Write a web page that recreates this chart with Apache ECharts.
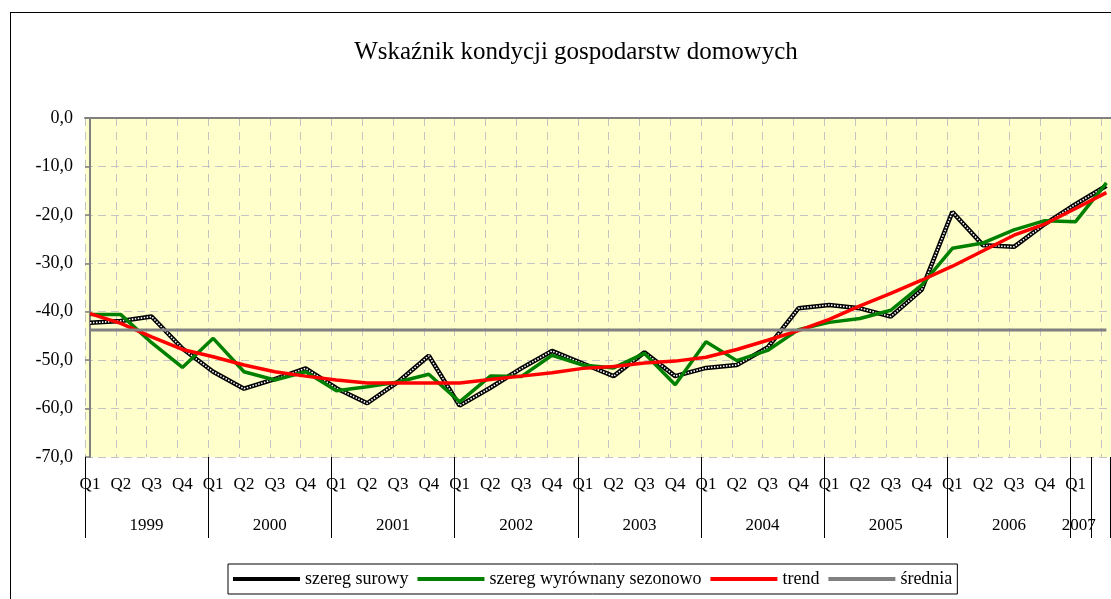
<!DOCTYPE html>
<html><head><meta charset="utf-8">
<script src="https://cdn.jsdelivr.net/npm/echarts@6/dist/echarts.min.js"></script>
<style>
html,body{margin:0;padding:0;background:#fff;overflow:hidden}
#chart{position:absolute;left:0;top:0;width:1111px;height:599px}
#frame{position:absolute;left:10px;top:12px;width:1300px;height:800px;border:1px solid #000;pointer-events:none}
</style></head><body>
<div id="chart"></div><div id="frame"></div>
<script>
// ---- data ----
const quarterLabels = ['Q1','Q2','Q3','Q4','Q1','Q2','Q3','Q4','Q1','Q2','Q3','Q4','Q1','Q2','Q3','Q4',
  'Q1','Q2','Q3','Q4','Q1','Q2','Q3','Q4','Q1','Q2','Q3','Q4','Q1','Q2','Q3','Q4','Q1','Q2'];
const yearLabels = ['1999','2000','2001','2002','2003','2004','2005','2006','2007'];
const rawSeries = [-42.3,-41.9,-41.0,-47.6,-52.4,-55.9,-53.9,-51.7,-55.8,-58.9,-54.5,-49.1,-59.4,-55.7,-51.7,-48.1,
  -50.7,-53.3,-48.4,-53.3,-51.6,-51.0,-47.4,-39.3,-38.6,-39.3,-41.0,-35.5,-19.4,-26.3,-26.6,-21.9,-17.8,-14.0];
const seasonalSeries = [-40.6,-40.6,-46.4,-51.5,-45.5,-52.4,-54.1,-52.4,-56.3,-55.5,-54.5,-52.9,-58.6,-53.3,-53.4,-49.0,
  -51.0,-51.6,-48.6,-55.1,-46.2,-50.1,-48.0,-43.7,-42.2,-41.4,-39.7,-34.5,-26.9,-25.8,-23.1,-21.2,-21.4,-13.4];
const trendSeries = [-40.4,-42.4,-45.2,-47.8,-49.3,-51.0,-52.4,-53.3,-54.1,-54.7,-54.7,-54.7,-54.7,-54.0,-53.3,-52.6,
  -51.7,-51.3,-50.6,-50.2,-49.4,-47.8,-45.9,-43.9,-41.6,-38.8,-36.2,-33.5,-30.6,-27.4,-24.2,-21.9,-18.7,-15.4];
const meanSeries = [-43.8,-43.8,-43.8,-43.8,-43.8,-43.8,-43.8,-43.8,-43.8,-43.8,-43.8,-43.8,-43.8,-43.8,-43.8,-43.8,
  -43.8,-43.8,-43.8,-43.8,-43.8,-43.8,-43.8,-43.8,-43.8,-43.8,-43.8,-43.8,-43.8,-43.8,-43.8,-43.8,-43.8,-43.8];
const seriesNames = ['szereg surowy','szereg wyrównany sezonowo','trend','średnia'];
const seriesColors = ['#000000','#008000','#FF0000','#808080'];
const titleText = 'Wskaźnik kondycji gospodarstw domowych';

// ---- layout ----
const PLOT_LEFT = 85, STEP = 30.8, FIRST_OFFSET = 5, CHART_W = 1111;
const X_MIN = -FIRST_OFFSET / STEP;
const X_MAX = X_MIN + (CHART_W - PLOT_LEFT) / STEP;
const FONT = 'Liberation Serif';

const toPairs = arr => arr.map((v, i) => [i, v]);
const yearTickValues = yearLabels.map((_, k) => X_MIN + 4 * k).concat([32.5, 33.12]);
const yearLabelValues = yearLabels.map((_, k) => k < 8 ? X_MIN + 2 + 4 * k : 32.1);
const quarterLabelValues = quarterLabels.map((_, i) => i).slice(0, 33);

const chart = echarts.init(document.getElementById('chart'), null, {renderer: 'canvas'});
chart.setOption({
  backgroundColor: 'transparent',
  animation: false,
  textStyle: {fontFamily: FONT},
  title: {
    text: titleText, left: 571, top: 35, textAlign: 'center',
    textStyle: {fontFamily: FONT, fontSize: 25, fontWeight: 'normal', color: '#000'}
  },
  legend: {
    data: seriesNames.map(n => ({name: n, icon: 'rect'})), left: 228, top: 564,
    padding: [6, 5], itemGap: 9, itemWidth: 67, itemHeight: 4,
    borderColor: '#000', borderWidth: 1, backgroundColor: '#fff',
    textStyle: {fontFamily: FONT, fontSize: 18, color: '#000'}
  },
  grid: {
    left: PLOT_LEFT, right: 0, top: 118, bottom: 142,
    show: true, backgroundColor: '#FFFFCC', borderWidth: 0
  },
  xAxis: [
    {
      type: 'value', min: X_MIN, max: X_MAX, interval: 1, position: 'bottom',
      axisLine: {show: false}, axisTick: {show: false},
      splitLine: {show: true, lineStyle: {color: '#C4C4C4', type: [8, 6], width: 1}},
      axisLabel: {
        customValues: quarterLabelValues, margin: 19,
        formatter: v => quarterLabels[Math.round(v)] || '',
        fontFamily: FONT, fontSize: 17, color: '#000'
      }
    },
    {
      type: 'value', min: X_MIN, max: X_MAX, position: 'bottom',
      axisLine: {show: false}, splitLine: {show: false},
      axisTick: {show: true, customValues: yearTickValues, length: 81, lineStyle: {color: '#000', width: 1}},
      axisLabel: {
        customValues: yearLabelValues, margin: 60,
        formatter: v => yearLabels[Math.min(8, Math.round((v - X_MIN - 2) / 4))],
        fontFamily: FONT, fontSize: 17, color: '#000'
      }
    },
    {
      type: 'value', min: X_MIN, max: X_MAX, position: 'top',
      axisLine: {show: true, lineStyle: {color: '#808080', width: 2}},
      axisTick: {show: false}, axisLabel: {show: false}, splitLine: {show: false}
    }
  ],
  yAxis: {
    type: 'value', min: -70, max: 0, interval: 10,
    axisLine: {show: true, lineStyle: {color: '#808080', width: 2}},
    axisTick: {show: true, length: 5, lineStyle: {color: '#808080', width: 1.5}},
    splitLine: {show: true, lineStyle: {color: '#C4C4C4', type: [8, 5], width: 1}},
    axisLabel: {
      margin: 12, fontFamily: FONT, fontSize: 18, color: '#000',
      formatter: v => v.toFixed(1).replace('.', ',')
    }
  },
  series: [
    {name: seriesNames[0], type: 'line', data: toPairs(rawSeries), symbol: 'none',
      itemStyle: {color: seriesColors[0]}, lineStyle: {color: seriesColors[0], width: 4.5}, z: 2},
    {name: 'surowy-wzor', type: 'line', data: toPairs(rawSeries), symbol: 'none',
      itemStyle: {color: '#fff'}, lineStyle: {color: '#fff', width: 1.6, type: [1.5, 1.5]}, z: 2, silent: true},
    {name: seriesNames[1], type: 'line', data: toPairs(seasonalSeries), symbol: 'none',
      itemStyle: {color: seriesColors[1]}, lineStyle: {color: seriesColors[1], width: 3.5}, z: 3},
    {name: seriesNames[2], type: 'line', data: toPairs(trendSeries), symbol: 'none',
      itemStyle: {color: seriesColors[2]}, lineStyle: {color: seriesColors[2], width: 3.5}, z: 4},
    {name: seriesNames[3], type: 'line', data: toPairs(meanSeries), symbol: 'none',
      itemStyle: {color: seriesColors[3]}, lineStyle: {color: seriesColors[3], width: 3}, z: 5}
  ]
});
</script>
</body></html>
